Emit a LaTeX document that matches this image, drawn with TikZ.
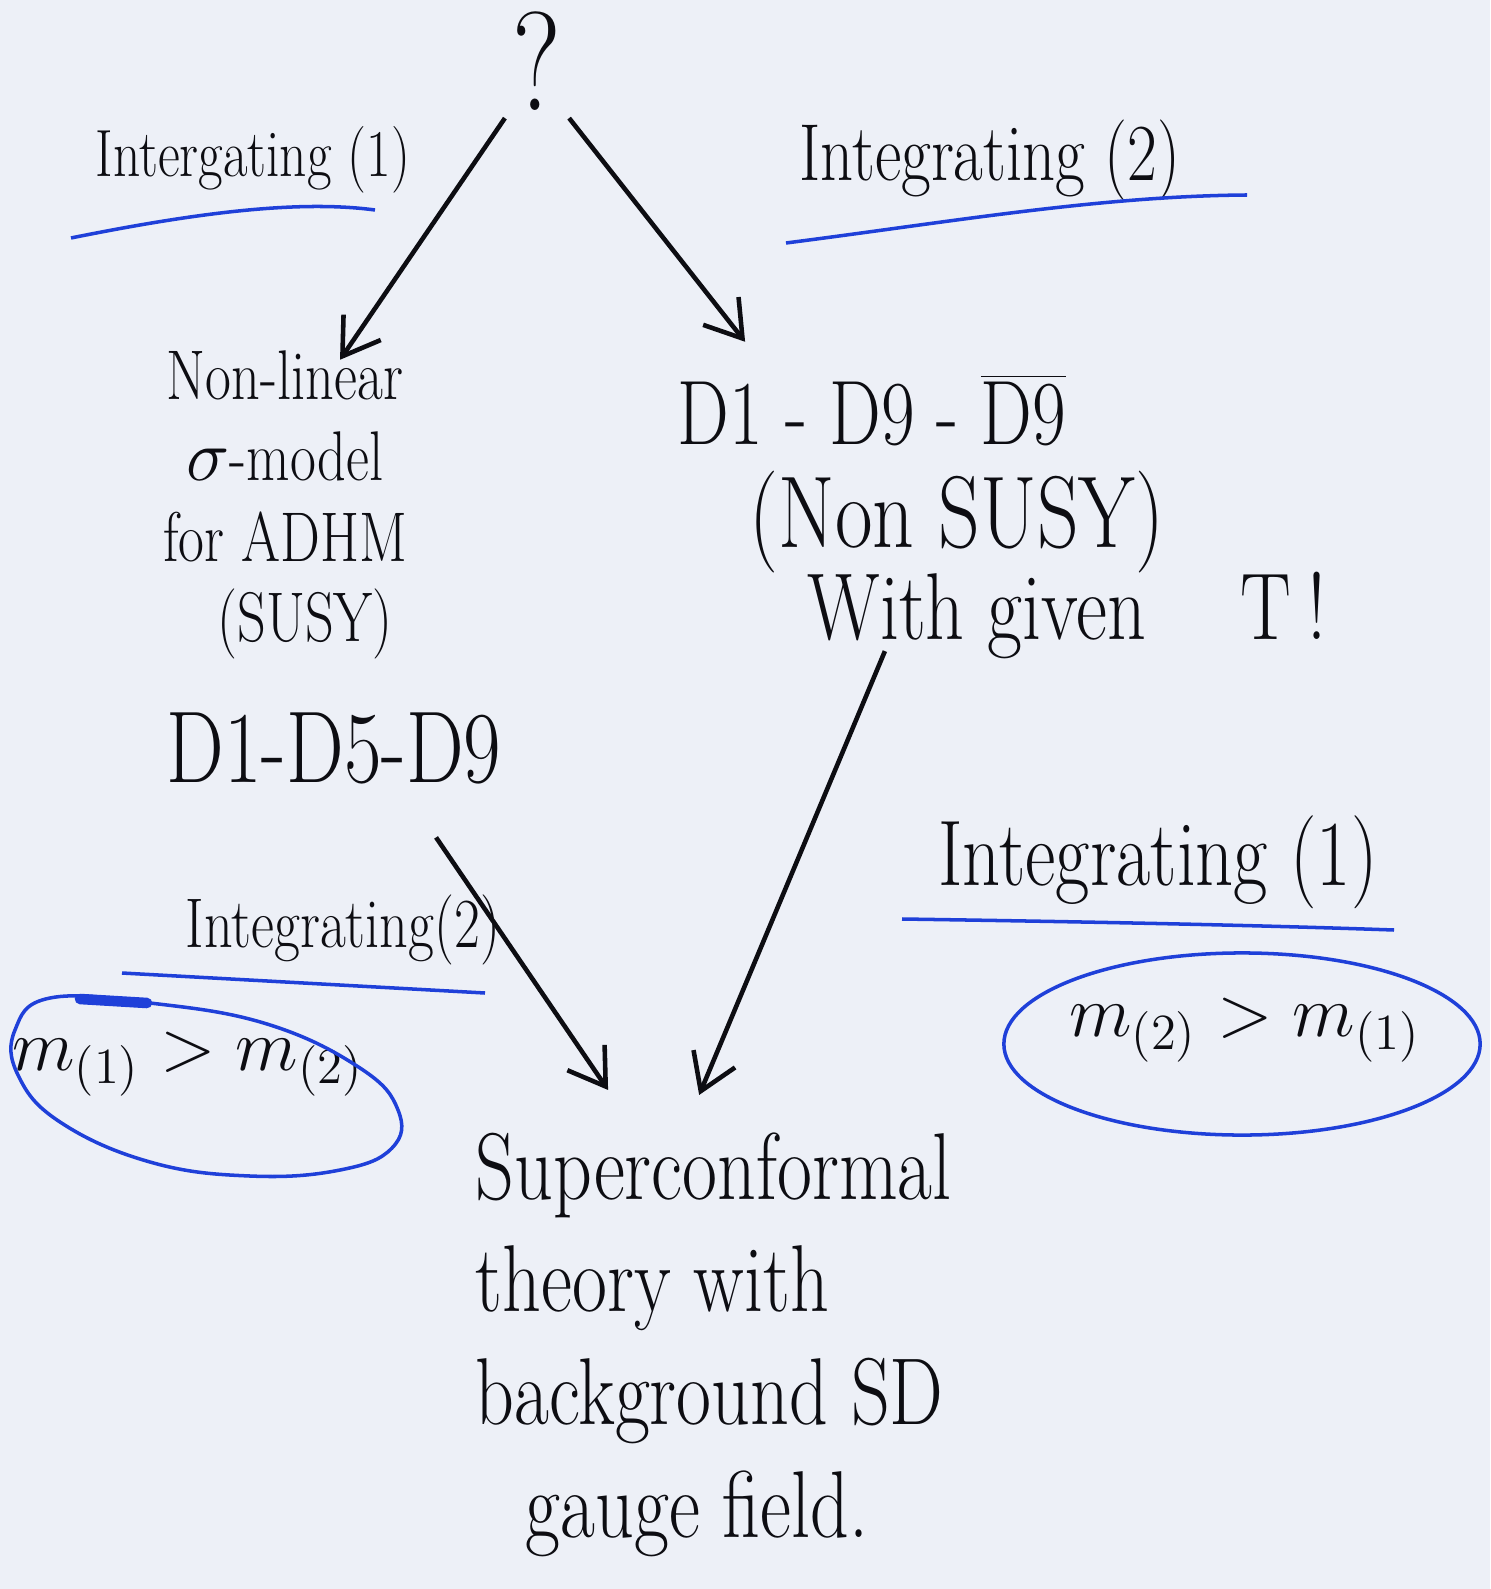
\documentclass[tikz,border=0pt]{standalone}
\usepackage{fontspec}
\setmainfont{Latin Modern Roman}[FakeStretch=0.8]
\usetikzlibrary{arrows.meta}
\definecolor{paper}{rgb}{0.93, 0.94, 0.97}
\definecolor{ink}{rgb}{0.05, 0.05, 0.07}
\definecolor{penblue}{rgb}{0.12, 0.25, 0.85}

\begin{document}
\begin{tikzpicture}[x=0.01cm,y=-0.01cm,every node/.style={inner sep=2pt, text=ink},
  arr/.style={draw=ink, line width=1.3pt, -{Straight Barb[length=3.5mm,width=4.5mm]}},
  uline/.style={draw=penblue, line width=1pt}]

\useasboundingbox (0,0) rectangle (1490,1589);
\fill[paper] (0,0) rectangle (1490,1589);

\node[font=\fontsize{40}{40}\selectfont] (q) at (537,61) {?};

\node[font=\fontsize{19}{22}\selectfont] (int1a) at (253,160) {Intergating (1)};
\node[font=\fontsize{23}{26}\selectfont] (int2a) at (990,160) {Integrating (2)};

\node[font=\fontsize{20}{23}\selectfont, align=center] (nlsm) at (285,505)
  {Non-linear\\ $\sigma$-model\\ for ADHM\\ \hspace*{0.4cm}(SUSY)};
\node[font=\fontsize{29}{32}\selectfont] (d159) at (334,748) {D1-D5-D9};

\node[font=\fontsize{26}{30}\selectfont] (d19) at (872,410) {D1 - D9 - $\overline{\hbox{D9}}$};
\node[font=\fontsize{29}{32}\selectfont] (nsusy) at (957,522) {(Non SUSY)};
\node[font=\fontsize{27}{30}\selectfont] (wgt) at (1067,615) {With given\quad T\,!};

\node[font=\fontsize{20}{24}\selectfont] (int2b) at (343,930) {Integrating(2)};
\node[font=\fontsize{26.5}{30}\selectfont] (int1b) at (1158,862) {Integrating (1)};

\node[font=\fontsize{19.5}{24}\selectfont] (ml) at (188,1064) {$m_{(1)} > m_{(2)}$};
\node[font=\fontsize{21}{25}\selectfont] (mr) at (1245,1030) {$m_{(2)} > m_{(1)}$};

\node[font=\fontsize{27}{32}\selectfont, align=left, anchor=north west] (sc) at (468,1125)
  {Superconformal\\ theory with\\ background SD\\ \hspace*{0.5cm}gauge field.};

\draw[uline] (71,238) .. controls (200,212) and (300,200) .. (375,210);
\draw[uline] (786,243) .. controls (950,222) and (1100,196) .. (1247,195);
\draw[uline] (122,973) -- (485,993);
\draw[uline] (902,919) .. controls (1100,922) and (1250,925) .. (1394,930);
\draw[uline] plot[smooth cycle, tension=0.7] coordinates {(50,998) (150,1003) (267,1024) (360,1068)
  (398,1110) (392,1148) (340,1170) (250,1176) (150,1162) (60,1122) (18,1075) (15,1030)};
\draw[uline, line width=3pt, line cap=round] (80,999) -- (147,1003);
\draw[uline] (1242,1044) ellipse [x radius=2.38cm, y radius=0.91cm];

\draw[arr] (q.south west) -- ([xshift=0.55cm,yshift=-0.17cm]nlsm.north);
\draw[arr] (q.south east) -- ([xshift=0.75cm,yshift=0.25cm]d19.north west);
\draw[arr] ([xshift=1.02cm,yshift=-0.46cm]d159.south) -- ([xshift=1.4cm,yshift=0.35cm]sc.north west);
\draw[arr] ([xshift=-1.82cm,yshift=0.15cm]wgt.south) -- ([xshift=2.31cm,yshift=0.3cm]sc.north west);

\end{tikzpicture}
\end{document}
